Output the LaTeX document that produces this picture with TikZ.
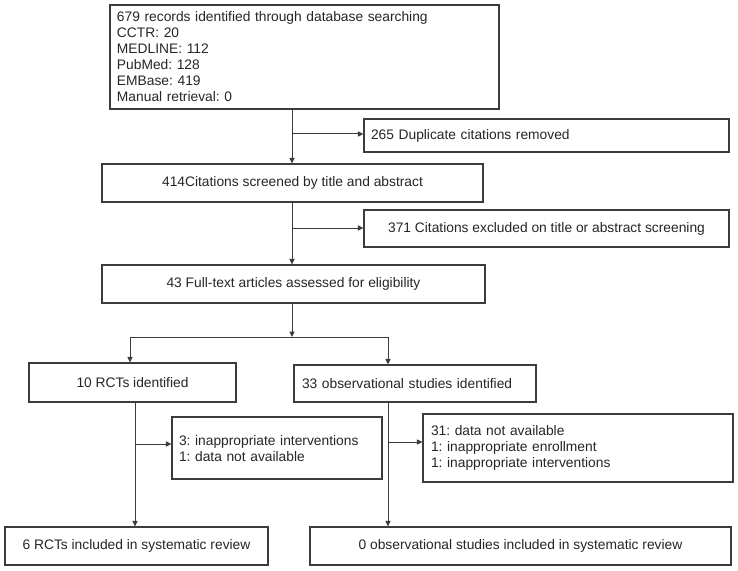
\documentclass[tikz,border=0pt]{standalone}
\usepackage{fontspec}
\setmainfont{Liberation Sans}
\usetikzlibrary{arrows.meta}
\definecolor{linec}{HTML}{3C3C3C}
\definecolor{textc}{HTML}{262626}
\frenchspacing
\begin{document}
\begin{tikzpicture}[x=1bp,y=-1bp,
  box/.style={draw=linec,line width=1.1bp,rectangle,inner xsep=7bp,inner ysep=2bp,
    text=textc,font=\fontsize{13.8bp}{16bp}\selectfont\frenchspacing},
  lbox/.style={box,align=left},
  cbox/.style={box,align=center},
  arr/.style={draw=linec,line width=1bp,-{Triangle[length=5.5bp,width=5bp]}},
  ln/.style={draw=linec,line width=1bp}]
\useasboundingbox (0,0) rectangle (738,571);
\fill[white] (0,0) rectangle (738,571);

\node[lbox,minimum width=389bp,minimum height=104bp,text width=375bp] (top) at (304.5,57)
 {679 records identified through database searching\\CCTR: 20\\MEDLINE: 112\\PubMed: 128\\EMBase: 419\\Manual retrieval: 0};
\node[lbox,minimum width=365bp,minimum height=33bp,text width=351bp] (dup) at (546.5,135.5)
 {265 Duplicate citations removed};
\node[cbox,minimum width=381bp,minimum height=38bp] (scr) at (292.5,183)
 {414Citations screened by title and abstract};
\node[cbox,minimum width=365bp,minimum height=37bp] (exc) at (546.5,228.5)
 {371 Citations excluded on title or abstract screening};
\node[cbox,minimum width=383bp,minimum height=38bp] (full) at (293.5,284)
 {43 Full-text articles assessed for eligibility};
\node[cbox,minimum width=207bp,minimum height=39bp] (rct) at (132.5,382.5)
 {10 RCTs identified};
\node[lbox,minimum width=242bp,minimum height=37bp,text width=226bp] (obs) at (415,383.5)
 {33 observational studies identified};
\node[lbox,minimum width=210bp,minimum height=62bp,text width=196bp,text depth=15bp] (exr) at (277,448)
 {3: inappropriate interventions\\1: data not available};
\node[lbox,minimum width=310bp,minimum height=68bp,text width=294bp] (exo) at (578,448)
 {31: data not available\\1: inappropriate enrollment\\1: inappropriate interventions};
\node[cbox,minimum width=263bp,minimum height=38bp] (rctin) at (136.5,546)
 {6 RCTs included in systematic review};
\node[cbox,minimum width=421bp,minimum height=38bp] (obsin) at (520.5,546)
 {0 observational studies included in systematic review};

\coordinate (j1) at (292,134);
\coordinate (j2) at (292,228);
\coordinate (s) at (292,337);
\coordinate (sl) at (130,337);
\coordinate (sr) at (388,337);
\coordinate (j3) at (135,444);
\coordinate (j4) at (388,442);

\draw[arr] (top.south -| j1) -- (scr.north -| j1);
\draw[arr] (j1) -- (dup.west |- j1);
\draw[arr] (scr.south -| j2) -- (full.north -| j2);
\draw[arr] (j2) -- (exc.west |- j2);
\draw[arr] (full.south -| s) -- (s);
\draw[ln] (sl) -- (sr);
\draw[arr] (sl) -- (rct.north -| sl);
\draw[arr] (sr) -- (obs.north -| sr);
\draw[arr] (rct.south -| j3) -- (rctin.north -| j3);
\draw[arr] (j3) -- (exr.west |- j3);
\draw[arr] (obs.south -| j4) -- (obsin.north -| j4);
\draw[arr] (j4) -- (exo.west |- j4);
\end{tikzpicture}
\end{document}
